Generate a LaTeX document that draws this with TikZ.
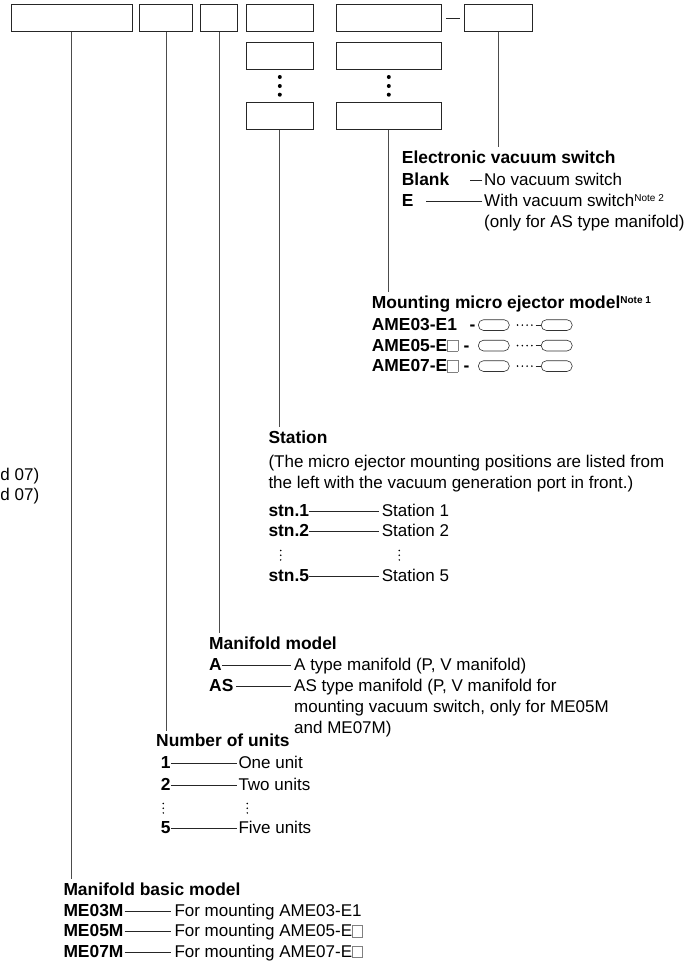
\documentclass[tikz,border=0pt]{standalone}
\usepackage{fontspec}
\setmainfont{Liberation Sans}
\usetikzlibrary{calc}
\newcommand\sqmark{{\color{black!50}\setlength\fboxsep{0pt}\setlength\fboxrule{0.6pt}\fbox{\rule{0pt}{10.8pt}\hspace{9.6pt}}}}
\newcommand\notesup[1]{\raisebox{5pt}{\fontsize{10}{10}\selectfont #1}}
\begin{document}
\begin{tikzpicture}[x=1pt,y=-1pt,
  box/.style={draw=black!85, line width=0.9pt, inner sep=0pt, anchor=north west, minimum height=26.3pt},
  conn/.style={draw=black!70, line width=0.8pt},
  dashline/.style={draw=black!85, line width=0.7pt},
  head/.style={inner sep=0pt, anchor=base west, font=\fontsize{17.4}{20}\selectfont\bfseries, text height=12pt, text depth=0pt},
  code/.style={inner sep=0pt, anchor=base west, font=\fontsize{17.4}{20}\selectfont\bfseries, text height=10pt, text depth=0pt},
  desc/.style={inner sep=0pt, anchor=base west, font=\fontsize{17}{20}\selectfont, text height=10pt, text depth=0pt},
  oval/.style={draw=black!80, line width=0.6pt, rounded corners=5.3pt, minimum width=31pt, minimum height=10.8pt, inner sep=0pt}
]
\fill[white] (0,0) rectangle (698,961);
\useasboundingbox (0,0) rectangle (698,961);

% code boxes
\node[box, minimum width=121pt] (b1) at (10.7,4.3) {};
\node[box, minimum width=52.7pt] (b2) at (139.3,4.3) {};
\node[box, minimum width=37.3pt] (b3) at (200,4.3) {};
\node[box, minimum width=67.3pt] (b4) at (245.7,4.3) {};
\node[box, minimum width=67.3pt] (b4b) at (245.7,42.3) {};
\node[box, minimum width=67.3pt] (b4c) at (245.7,102.3) {};
\node[box, minimum width=105.3pt] (b5) at (335.7,4.3) {};
\node[box, minimum width=105.3pt] (b5b) at (335.7,42.3) {};
\node[box, minimum width=105.3pt] (b5c) at (335.7,102.3) {};
\node[box, minimum width=67.7pt] (b6) at (464.3,4.3) {};
\draw[dashline, shorten <=4.5pt, shorten >=4.3pt] (b5.east) -- (b6.west);
\foreach \yy in {77,86,94.7} {
  \fill (b4.south |- 0,\yy) circle (2pt);
  \fill (b5.south |- 0,\yy) circle (2pt);
}

% Electronic vacuum switch
\node[head] (evs) at (401.7,163) {Electronic vacuum switch};
\node[code] (blank) at (401.7,185.5) {Blank};
\node[desc] (nvs) at (484,185.5) {No vacuum switch};
\node[code] (ecode) at (401.7,206) {E};
\node[desc] (wvs) at (484,206) {With vacuum switch\notesup{Note 2}};
\node[desc] (onlyas) at (484,227) {(only for AS type manifold)};
\draw[dashline] ([xshift=-1.7pt]nvs.west) -- ++(-12.3,0);
\draw[dashline] ([xshift=-1.7pt]wvs.west) -- ++(-56.3,0);
\draw[conn, shorten >=4pt] (b6.south) -- (b6.south |- evs.north);

% Mounting micro ejector model
\node[head] (mme) at (371.7,308.5) {Mounting micro ejector model\notesup{\bfseries Note 1}};
\node[code] (r1) at (371.7,330.5) {AME03-E1};
\node[code] (h1) at (469.5,330.5) {-};
\node[code] (r2) at (371.7,351) {AME05-E\sqmark};
\node[code, anchor=base west] (h2) at ([xshift=5pt]r2.base east) {-};
\node[code] (r3) at (371.7,371.5) {AME07-E\sqmark};
\node[code, anchor=base west] (h3) at ([xshift=5pt]r3.base east) {-};
\foreach \yy/\nm in {330.5/1,351/2,371.5/3} {
  \node[oval] (oa\nm) at (493.8,\yy-5.4) {};
  \node[oval] (ob\nm) at (556.7,\yy-5.4) {};
  \foreach \xx in {517.5,522.3,527.1,531.9} { \fill (\xx,\yy-5.4) circle (0.9pt); }
  \draw[dashline] (535.5,\yy-5.4) -- (ob\nm.west);
}
\draw[conn, shorten >=4pt] (b5c.south) -- (b5c.south |- mme.north);

% Station
\node[head] (sta) at (268.3,443.3) {Station};
\node[desc] (sn1) at (268.3,467) {(The micro ejector mounting positions are listed from};
\node[desc] (sn2) at (268.3,488.5) {the left with the vacuum generation port in front.)};
\node[code] (s1) at (268.3,516) {stn.1};
\node[desc] (d1) at (381.7,516) {Station 1};
\node[code] (s2) at (268.3,536.7) {stn.2};
\node[desc] (d2) at (381.7,536.7) {Station 2};
\node[code] (s5) at (268.3,581.7) {stn.5};
\node[desc] (d5) at (381.7,581.7) {Station 5};
\draw[dashline, shorten >=3pt] (s1.east) -- (d1.west);
\draw[dashline, shorten >=3pt] (s2.east) -- (d2.west);
\draw[dashline, shorten >=3pt] (s5.east) -- (d5.west);
\foreach \yy in {550.5,555.2,559.9} { \fill (280.7,\yy) circle (0.85pt); \fill (399.3,\yy) circle (0.85pt); }
\draw[conn, shorten >=4pt] (b4c.south) -- (b4c.south |- sta.north);

% Manifold model
\node[head] (mm) at (209,649.3) {Manifold model};
\node[code] (ma) at (209,670) {A};
\node[desc] (mad) at (294,670) {A type manifold (P, V manifold)};
\node[code] (mas) at (209,691) {AS};
\node[desc] (masd) at (294,691) {AS type manifold (P, V manifold for};
\node[desc] (masd2) at (294,712.3) {mounting vacuum switch, only for ME05M};
\node[desc] (masd3) at (294,733) {and ME07M)};
\draw[dashline, shorten >=3pt] (ma.east) -- (mad.west);
\draw[dashline, shorten <=2.5pt, shorten >=3pt] (mas.east) -- (masd.west);
\draw[conn, shorten >=4pt] (b3.south) -- (b3.south |- mm.north);

% Number of units
\node[head] (nu) at (156,746.7) {Number of units};
\node[code] (n1) at (160.7,768.3) {1};
\node[desc] (nd1) at (238.3,768.3) {One unit};
\node[code] (n2) at (160.7,790) {2};
\node[desc] (nd2) at (238.3,790) {Two units};
\node[code] (n5) at (160.7,833.3) {5};
\node[desc] (nd5) at (238.3,833.3) {Five units};
\draw[dashline, shorten >=1.5pt] (n1.east) -- (nd1.west);
\draw[dashline, shorten >=1.5pt] (n2.east) -- (nd2.west);
\draw[dashline, shorten >=1.5pt] (n5.east) -- (nd5.west);
\foreach \yy in {803.5,808.2,812.9} { \fill (163.3,\yy) circle (0.85pt); \fill (247.3,\yy) circle (0.85pt); }
\draw[conn, shorten >=4pt] (b2.south) -- (b2.south |- nu.north);

% Manifold basic model
\node[head] (mb) at (63.3,895) {Manifold basic model};
\node[code] (m3) at (63.3,916) {ME03M};
\node[desc] (md3) at (174.3,916) {For mounting AME03-E1};
\node[code] (m5) at (63.3,936.5) {ME05M};
\node[desc] (md5) at (174.3,936.5) {For mounting AME05-E\sqmark};
\node[code] (m7) at (63.3,957) {ME07M};
\node[desc] (md7) at (174.3,957) {For mounting AME07-E\sqmark};
\draw[dashline, shorten <=1pt, shorten >=3pt] (m3.east) -- (md3.west);
\draw[dashline, shorten <=1pt, shorten >=3pt] (m5.east) -- (md5.west);
\draw[dashline, shorten <=1pt, shorten >=3pt] (m7.east) -- (md7.west);
\draw[conn, shorten >=4pt] (b1.south) -- (b1.south |- mb.north);

% texts at the left edge (continued from a neighbouring table)
\node[desc] (cut1) at (0.3,480) {d 07)};
\node[desc] (cut2) at (0.3,500.5) {d 07)};
\end{tikzpicture}
\end{document}
